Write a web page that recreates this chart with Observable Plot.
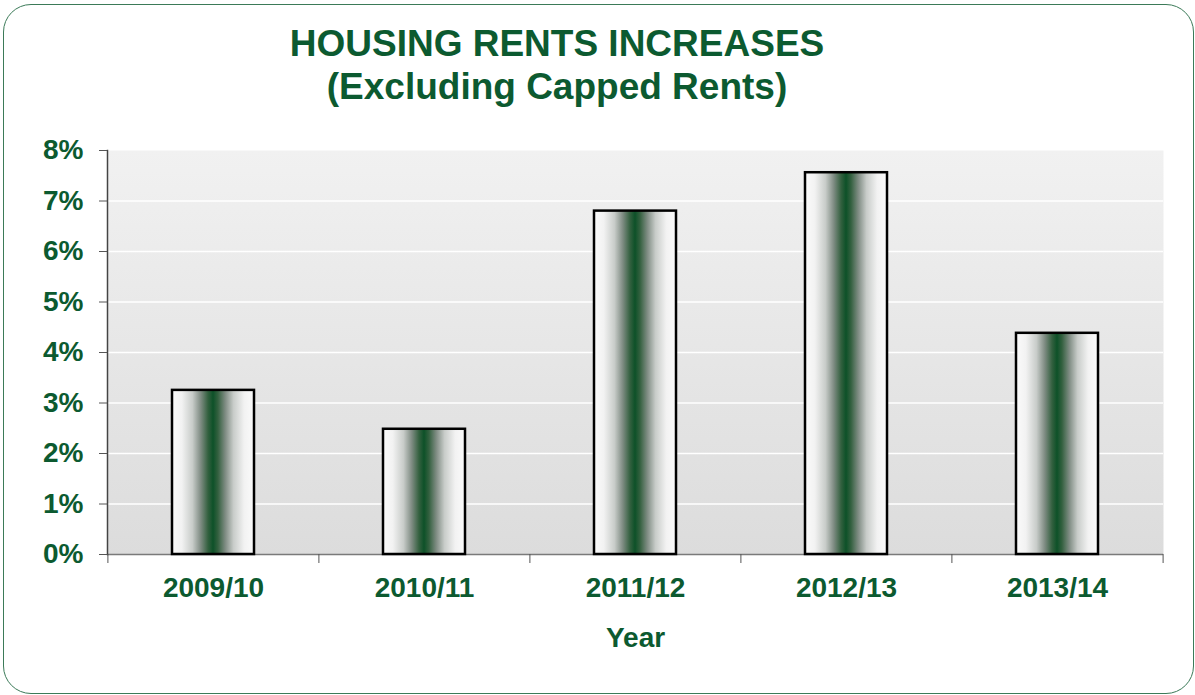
<!DOCTYPE html>
<html>
<head>
<meta charset="utf-8">
<script src="https://cdn.jsdelivr.net/npm/d3@7"></script>
<script src="https://cdn.jsdelivr.net/npm/@observablehq/plot@0.6"></script>
<style>
  html, body { margin: 0; padding: 0; background: #fff; }
  #wrap { position: relative; width: 1195px; height: 695px; overflow: hidden; background: #fff; font-family: "Liberation Sans", Arial, sans-serif; }
  #frame { position: absolute; left: 3px; top: 4px; width: 1191px; height: 690px; box-sizing: border-box; border: 1.5px solid #3b7a58; border-radius: 28px; pointer-events: none; z-index: 2; }
  #title { position: absolute; left: 0; top: 22px; width: 1114px; text-align: center; font-weight: bold; font-size: 37px; line-height: 43px; color: #0c5a30; }
  #chart { position: absolute; left: 0; top: 140px; }
</style>
</head>
<body>
<div id="wrap">
  <div id="title">HOUSING RENTS INCREASES<br>(Excluding Capped Rents)</div>
  <div id="chart"></div>
  <div id="frame"></div>
</div>
<script>
const years = ["2009/10", "2010/11", "2011/12", "2012/13", "2013/14"];
const increases = [3.25, 2.48, 6.8, 7.56, 4.38];
const yTicks = [0, 1, 2, 3, 4, 5, 6, 7, 8];
const gridTicks = [1, 2, 3, 4, 5, 6, 7];
const xTitle = ["Year"];

const data = years.map((year, i) => ({year, value: increases[i]}));

const green = "#0c5a30";
const W = 1195, H = 555, ML = 107, MR = 32, MT = 10, MB = 141;
const step = (W - ML - MR) / years.length;

const svg = Plot.plot({
  width: W,
  height: H,
  marginLeft: ML,
  marginRight: MR,
  marginTop: MT,
  marginBottom: MB,
  style: {fontFamily: "'Liberation Sans', Arial, sans-serif", fontWeight: "bold", fontSize: "28px", background: "transparent", overflow: "visible"},
  x: {domain: years, paddingInner: 0.612, paddingOuter: 0.306},
  y: {domain: [0, 8]},
  marks: [
    Plot.frame({fill: "url(#bgGrad)", stroke: "none"}),
    Plot.ruleY(gridTicks, {stroke: "#ffffff", strokeWidth: 1.5}),
    Plot.ruleY([0], {stroke: "#7a7a7a", strokeWidth: 1.5}),
    Plot.frame({anchor: "left", stroke: "#444", strokeWidth: 1.5}),
    Plot.barY(data, {x: "year", y: "value", fill: "url(#barGrad)", stroke: "#000", strokeWidth: 2.5}),
    Plot.axisY({ticks: yTicks, tickFormat: d => d + "%", tickSize: 8, tickPadding: 16, stroke: "#555", fill: green, label: null, fontSize: 28, fontWeight: "bold"}),
    Plot.axisX({tickSize: 0, tickPadding: 23, fill: green, label: null, fontSize: 28, fontWeight: "bold"}),
    Plot.axisX({tickSize: 9, tickFormat: () => "", dx: -step / 2, stroke: "#555", label: null}),
    Plot.axisX({ticks: [years[years.length - 1]], tickSize: 9, tickFormat: () => "", dx: step / 2, stroke: "#555", label: null}),
    Plot.text(xTitle, {text: d => d, frameAnchor: "bottom", dy: 84, lineAnchor: "middle", fill: green, fontSize: 28, fontWeight: "bold"})
  ]
});

const defs = d3.select(svg).insert("defs", ":first-child");
const bg = defs.append("linearGradient").attr("id", "bgGrad").attr("x1", 0).attr("y1", 0).attr("x2", 0).attr("y2", 1);
bg.append("stop").attr("offset", "0").attr("stop-color", "#f1f1f1");
bg.append("stop").attr("offset", "1").attr("stop-color", "#dcdcdc");
const bar = defs.append("linearGradient").attr("id", "barGrad").attr("x1", 0).attr("y1", 0).attr("x2", 1).attr("y2", 0);
[[0, "#fbfbfb"], [0.12, "#f2f2f2"], [0.25, "#c8ccc9"], [0.35, "#7f8c83"], [0.44, "#33603f"], [0.5, "#0d5128"],
 [0.56, "#33603f"], [0.65, "#7f8c83"], [0.75, "#c8ccc9"], [0.88, "#f2f2f2"], [1, "#fbfbfb"]]
  .forEach(([o, c]) => bar.append("stop").attr("offset", o).attr("stop-color", c));

document.getElementById("chart").appendChild(svg);
</script>
</body>
</html>
